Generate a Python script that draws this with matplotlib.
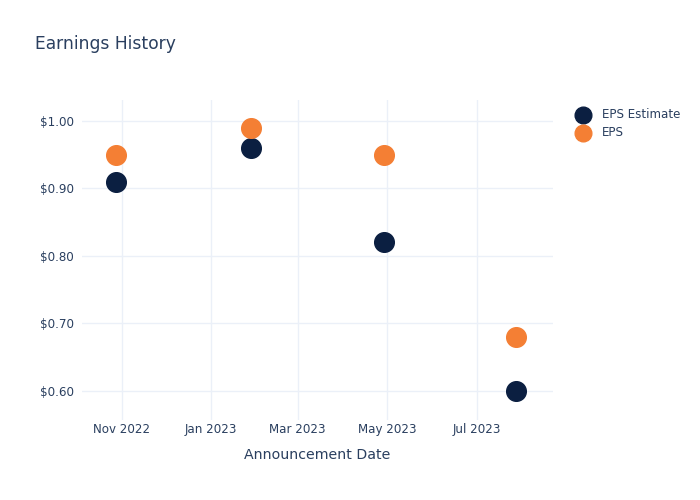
import matplotlib
matplotlib.use("Agg")
import matplotlib.pyplot as plt
import matplotlib.dates as mdates
import pandas as pd

# datos del gráfico
fechas = pd.to_datetime(["2022-10-28", "2023-01-28", "2023-04-29", "2023-07-28"])
eps_estimate = [0.91, 0.96, 0.82, 0.60]
eps = [0.95, 0.99, 0.95, 0.68]
y_ticks = [0.60, 0.70, 0.80, 0.90, 1.00]

texto = "#2a3f5f"
rejilla = "#ebf0f8"

plt.rcParams["font.family"] = ["DejaVu Sans"]

fig = plt.figure(figsize=(7, 5), dpi=100)
ax = fig.add_axes([82 / 700, 80 / 500, (553 - 82) / 700, 320 / 500])

ax.scatter(fechas, eps_estimate, s=200, color="#0b1f41", label="EPS Estimate", zorder=3)
ax.scatter(fechas, eps, s=200, color="#f47f34", label="EPS", zorder=3)

ax.set_xlim(pd.Timestamp("2022-10-05"), pd.Timestamp("2023-08-22"))
ax.set_ylim(0.557, 1.031)
ax.set_yticks(y_ticks)
ax.yaxis.set_major_formatter(plt.FuncFormatter(lambda v, p: f"${v:.2f}"))
ax.xaxis.set_major_locator(mdates.MonthLocator(bymonth=[1, 3, 5, 7, 11]))
ax.xaxis.set_major_formatter(mdates.DateFormatter("%b %Y"))

ax.grid(True, color=rejilla, linewidth=1)
ax.set_axisbelow(True)
for s in ax.spines.values():
    s.set_visible(False)
ax.tick_params(length=0, labelsize=8.6, colors=texto, pad=6)
ax.tick_params(axis="x", pad=2)
ax.set_xlabel("Announcement Date", fontsize=10.2, color=texto, labelpad=9)

fig.text(35 / 700, 1 - 44 / 500, "Earnings History", fontsize=12.3, color=texto, va="center")
fig.legend(loc="upper left", bbox_to_anchor=(560 / 700, 1 - 97 / 500), frameon=False,
           fontsize=8.6, labelcolor=texto, handletextpad=0.6, labelspacing=0.45,
           markerscale=0.85)

fig.savefig("out.png", dpi=100)
